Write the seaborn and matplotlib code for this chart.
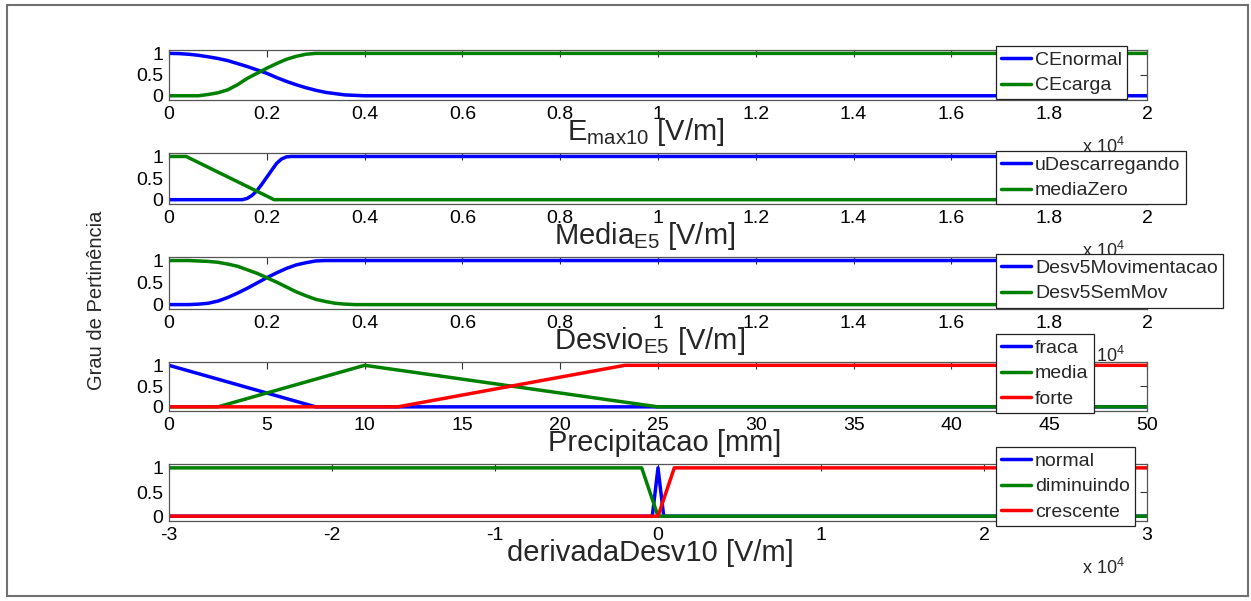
import numpy as np
import pandas as pd
import matplotlib
matplotlib.use("Agg")
import matplotlib.pyplot as plt
import seaborn as sns
from matplotlib.patches import Rectangle

# Funcoes de pertinencia lidas do grafico
# paineis 1-3 e 5: eixo x em unidades de 10^4 V/m

# painel 1 - Emax10
x_emax = [0.00, 0.02, 0.04, 0.06, 0.08, 0.10, 0.12, 0.14, 0.16, 0.18, 0.20,
          0.22, 0.24, 0.26, 0.28, 0.30, 0.32, 0.34, 0.36, 0.38, 0.40, 2.00]
ce_normal = [1.00, 0.995, 0.98, 0.955, 0.92, 0.88, 0.83, 0.76, 0.69, 0.61, 0.53,
             0.43, 0.34, 0.26, 0.19, 0.13, 0.08, 0.05, 0.02, 0.01, 0.00, 0.00]
ce_carga = [0.00, 0.00, 0.00, 0.00, 0.03, 0.07, 0.14, 0.26, 0.41, 0.53, 0.65,
            0.76, 0.86, 0.93, 0.98, 1.00, 1.00, 1.00, 1.00, 1.00, 1.00, 1.00]

# painel 2 - Media E5
x_media_u = [0.00, 0.15, 0.16, 0.17, 0.18, 0.19, 0.20, 0.21, 0.22, 0.23, 0.24, 0.25, 2.00]
u_descarregando = [0.00, 0.00, 0.03, 0.10, 0.21, 0.36, 0.52, 0.68, 0.84, 0.94, 0.99, 1.00, 1.00]
x_media_z = [0.00, 0.035, 0.215, 2.00]
media_zero = [1.00, 1.00, 0.00, 0.00]

# painel 3 - Desvio E5
x_desvio = [0.00, 0.02, 0.04, 0.06, 0.08, 0.10, 0.12, 0.14, 0.16, 0.18, 0.20,
            0.22, 0.24, 0.26, 0.28, 0.30, 0.32, 0.34, 0.36, 0.38, 0.40, 2.00]
desv5_mov = [0.00, 0.00, 0.00, 0.01, 0.03, 0.08, 0.16, 0.26, 0.37, 0.49, 0.61,
             0.72, 0.82, 0.90, 0.95, 0.99, 1.00, 1.00, 1.00, 1.00, 1.00, 1.00]
desv5_sem = [1.00, 1.00, 1.00, 0.99, 0.98, 0.96, 0.92, 0.87, 0.79, 0.71, 0.61,
             0.51, 0.40, 0.29, 0.20, 0.12, 0.07, 0.03, 0.01, 0.00, 0.00, 0.00]

# painel 4 - Precipitacao [mm]
x_fraca = [0, 7.5, 50]
fraca = [1, 0, 0]
x_media = [0, 2.5, 10, 25, 50]
media = [0, 0, 1, 0, 0]
x_forte = [0, 11.7, 23.3, 50]
forte = [0, 0, 1, 1]

# painel 5 - derivadaDesv10
x_normal = [-3.0, -0.035, 0.0, 0.035, 3.0]
normal = [0, 0, 1, 0, 0]
x_dimin = [-3.0, -0.1, 0.0, 3.0]
diminuindo = [1, 1, 0, 0]
x_cresc = [-3.0, 0.0, 0.1, 3.0]
crescente = [0, 0, 1, 1]

azul, verde, vermelho = "#0000ff", "#008000", "#ff0000"

sns.set_theme(style="white")
plt.rcParams["font.family"] = ["Liberation Sans", "DejaVu Sans"]
plt.rcParams["mathtext.default"] = "regular"

fig = plt.figure(figsize=(12.51, 6.01), dpi=100)
W, H = 1251, 601

# (topo, base) de cada painel em pixels
caixas = [(50, 100), (153, 204), (257, 309), (362, 411), (464, 521)]
esq, dir_ = 169, 1147

eixo_02 = np.round(np.arange(0, 2.01, 0.2), 1)
paineis = [
    dict(curvas=[(x_emax, ce_normal, "CEnormal", azul), (x_emax, ce_carga, "CEcarga", verde)],
         xlim=(0, 2), xticks=eixo_02, xlabel="E$_{max10}$ [V/m]", xl_c=646,
         leg_top=46, escala=True),
    dict(curvas=[(x_media_u, u_descarregando, "uDescarregando", azul),
                 (x_media_z, media_zero, "mediaZero", verde)],
         xlim=(0, 2), xticks=eixo_02, xlabel="Media$_{E5}$ [V/m]", xl_c=645,
         leg_top=151, escala=True),
    dict(curvas=[(x_desvio, desv5_mov, "Desv5Movimentacao", azul),
                 (x_desvio, desv5_sem, "Desv5SemMov", verde)],
         xlim=(0, 2), xticks=eixo_02, xlabel="Desvio$_{E5}$ [V/m]", xl_c=650,
         leg_top=254, escala=True),
    dict(curvas=[(x_fraca, fraca, "fraca", azul), (x_media, media, "media", verde),
                 (x_forte, forte, "forte", vermelho)],
         xlim=(0, 50), xticks=np.arange(0, 51, 5), xlabel="Precipitacao [mm]", xl_c=665,
         leg_top=334, escala=False),
    dict(curvas=[(x_normal, normal, "normal", azul), (x_dimin, diminuindo, "diminuindo", verde),
                 (x_cresc, crescente, "crescente", vermelho)],
         xlim=(-3, 3), xticks=np.arange(-3, 4, 1), xlabel="derivadaDesv10 [V/m]", xl_c=650,
         leg_top=447, escala=True),
]

for (topo, base), p in zip(caixas, paineis):
    h = base - topo
    ax = fig.add_axes([esq / W, 1 - base / H, (dir_ - esq) / W, h / H])
    for x, y, nome, cor in p["curvas"]:
        df = pd.DataFrame({"x": x, "y": y})
        sns.lineplot(data=df, x="x", y="y", ax=ax, color=cor, lw=2.5, label=nome,
                     estimator=None, sort=False)
    ax.set_xlim(*p["xlim"])
    ax.set_ylim(-0.1, 1.08)
    ax.set_xticks(p["xticks"])
    ax.set_xticklabels([f"{t:g}" for t in p["xticks"]])
    ax.set_yticks([0, 0.5, 1])
    ax.set_yticklabels(["0", "0.5", "1"])
    ax.tick_params(direction="in", length=5, width=0.8, top=True, right=True,
                   labelsize=14, colors="#333333", labelcolor="black", pad=4)
    for s in ax.spines.values():
        s.set_color("#555555")
        s.set_linewidth(0.9)
    ax.set_ylabel("")
    ax.set_xlabel(p["xlabel"], fontsize=21, va="baseline")
    ax.xaxis.set_label_coords((p["xl_c"] - esq) / (dir_ - esq), -40 / h)
    if p["escala"]:
        ax.text(0.977, -47 / h, "x 10$^4$", transform=ax.transAxes, ha="right",
                va="center", fontsize=13)
    leg = ax.legend(loc="upper left", bbox_to_anchor=(0.8456, (base - p["leg_top"]) / h),
                    fontsize=14, frameon=True, fancybox=False, framealpha=1,
                    edgecolor="#222222", borderaxespad=0, borderpad=0.26,
                    labelspacing=0.42, handlelength=1.55, handletextpad=0.2)
    leg.get_frame().set_linewidth(0.9)

fig.text(97 / W, 1 - 300 / H, "Grau de Pertinência", rotation=90, ha="center",
         va="center", fontsize=14.5)

fig.patches.append(Rectangle((7 / W, 5 / H), (1248 - 7) / W, (596 - 5) / H, fill=False,
                             ec="#707070", lw=1.5, transform=fig.transFigure))

fig.savefig("out.png", dpi=100)
